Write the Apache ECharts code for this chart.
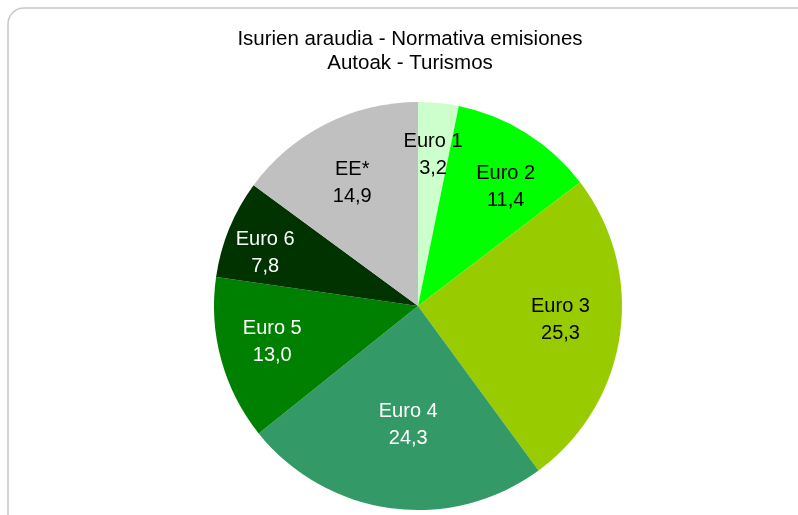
<!DOCTYPE html>
<html>
<head>
<meta charset="utf-8">
<script src="https://cdn.jsdelivr.net/npm/echarts@6/dist/echarts.min.js"></script>
<style>
html,body{margin:0;padding:0;background:#fff;}
#chartsDiv{width:798px;height:515px;}
</style>
</head>
<body>
<div id="chartsDiv"></div>
<script>
// datos
var categories = ['Euro 1', 'Euro 2', 'Euro 3', 'Euro 4', 'Euro 5', 'Euro 6', 'EE*'];
var values = [3.2, 11.4, 25.3, 24.3, 13.0, 7.8, 14.9];
var sliceColors = ['#ccffcc', '#00ff00', '#99cc00', '#339966', '#008000', '#003300', '#c0c0c0'];
var labelColors = ['#000', '#000', '#000', '#fff', '#fff', '#fff', '#000'];

var chart = echarts.init(document.getElementById('chartsDiv'));

function fmt(v){
	return v.toFixed(1).replace('.', ',');
}

// ajuste fino de etiquetas (como las coloca Excel)
var labelNudge = [[0, -2], [8, 8], [-6, -7], [10, -30], [-1, -3], [-14, 4], [2, 11]];

var mainData = [], labelData = [];
for (var i = 0; i < categories.length; i++) {
	mainData.push({name: categories[i], value: values[i], itemStyle: {color: sliceColors[i]}});
	labelData.push({name: categories[i], value: values[i], label: {color: labelColors[i]}});
}

var option = {
	backgroundColor: '#fff',
	animation: false,
	title: {
		text: 'Isurien araudia - Normativa emisiones\nAutoak - Turismos',
		left: 405,
		textAlign: 'center',
		top: 22,
		textStyle: {
			fontFamily: 'Liberation Sans',
			fontSize: 20.5,
			fontWeight: 'normal',
			lineHeight: 24.5,
			color: '#000'
		}
	},
	graphic: [{
		type: 'rect',
		shape: {x: 8, y: 8, width: 820, height: 540, r: 16},
		style: {fill: 'none', stroke: '#c8c8c8', lineWidth: 1.5},
		silent: true,
		z: -1
	}],
	series: [{
		type: 'pie',
		center: [418, 306],
		radius: [0, 204],
		startAngle: 90,
		clockwise: true,
		silent: true,
		label: {show: false},
		labelLine: {show: false},
		data: mainData
	}, {
		// capa transparente solo para situar las etiquetas
		type: 'pie',
		center: [418, 306],
		radius: [90, 204],
		startAngle: 90,
		clockwise: true,
		silent: true,
		itemStyle: {color: 'rgba(0,0,0,0)'},
		label: {
			show: true,
			position: 'inside',
			fontFamily: 'Liberation Sans',
			fontSize: 20,
			lineHeight: 27,
			formatter: function(p){
				return p.name + '\n' + fmt(p.value);
			}
		},
		labelLayout: function(p){
			var n = labelNudge[p.dataIndex];
			return {dx: n[0], dy: n[1]};
		},
		labelLine: {show: false},
		data: labelData
	}]
};
chart.setOption(option);
</script>
</body>
</html>
